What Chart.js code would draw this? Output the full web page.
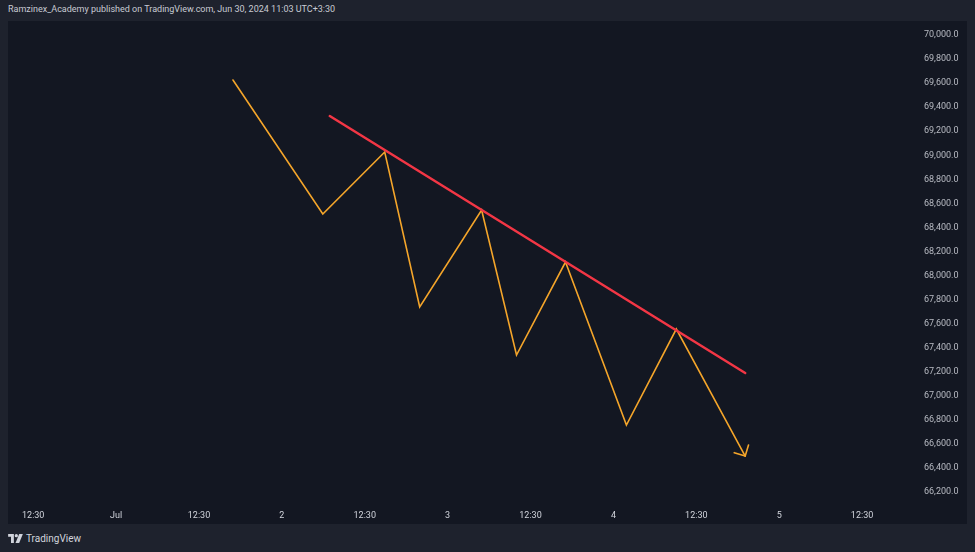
<!DOCTYPE html>
<html>
<head>
<meta charset="utf-8">
<script src="https://cdn.jsdelivr.net/npm/chart.js@4.4.1/dist/chart.umd.min.js"></script>
<style>
  html, body { margin: 0; padding: 0; background: #1e222d; width: 975px; height: 552px; overflow: hidden; }
  #header { position: absolute; left: 8px; top: 4px; font: 9px Roboto, sans-serif; color: #c8cbd3; white-space: nowrap; }
  #pane { position: absolute; left: 8px; top: 21px; width: 959px; height: 503px; background: #131722; }
  #footer { position: absolute; left: 8px; top: 531px; height: 14px; display: flex; align-items: center; }
  #footer span { font: 10px Roboto, sans-serif; color: #d1d4dc; margin-left: 3px; }
  canvas { display: block; }
</style>
</head>
<body>
<div id="header">Ramzinex_Academy published on TradingView.com, Jun 30, 2024 11:03 UTC+3:30</div>
<div id="pane"><canvas id="c" width="959" height="503"></canvas></div>
<div id="footer">
  <svg width="15" height="9" viewBox="0 0 36 22">
    <path d="M0 0h14v22h-7V7H0z" fill="#d1d4dc"/>
    <circle cx="20" cy="4" r="4" fill="#d1d4dc"/>
    <path d="M27 0h9l-9 22h-9z" fill="#d1d4dc"/>
  </svg>
  <span>TradingView</span>
</div>
<script>
// x positions are in tick-slot units (0 = first "12:30" label)
const xTickLabels = ["12:30", "Jul", "12:30", "2", "12:30", "3", "12:30", "4", "12:30", "5", "12:30"];
const yTickValues = [66200, 66400, 66600, 66800, 67000, 67200, 67400, 67600, 67800, 68000,
                     68200, 68400, 68600, 68800, 69000, 69200, 69400, 69600, 69800, 70000];

// orange zig-zag wave
const waveX = [2.41, 3.494, 4.241, 4.663, 5.410, 5.831, 6.422, 7.157, 7.759, 8.590];
const waveY = [69626, 68512, 69027, 67738, 68545, 67339, 68112, 66757, 67555, 66499];

// arrow head wings at the end of the wave
const wingAX = [8.458, 8.590];
const wingAY = [66527, 66499];
const wingBX = [8.630, 8.590];
const wingBY = [66591, 66499];

// red descending trend line
const trendX = [3.578, 8.590];
const trendY = [69326, 67189];

const toPts = (xs, ys) => xs.map((x, i) => ({ x: x, y: ys[i] }));

const orange = '#f4a52a';
const red = '#f23645';

const lineDs = (data, color, width) => ({
  data: data, borderColor: color, borderWidth: width, pointRadius: 0,
  fill: false, tension: 0, borderCapStyle: 'round', borderJoinStyle: 'miter'
});

// where the first/last tick of each axis sits inside the canvas (layout)
const X_FIRST_PX = 24, X_LAST_PX = 854;
const Y_TOP_PX = 14, Y_BOTTOM_PX = 471;

const chart = new Chart(document.getElementById('c'), {
  type: 'line',
  data: {
    datasets: [
      lineDs(toPts(trendX, trendY), red, 2.5),
      lineDs(toPts(waveX, waveY), orange, 1.6),
      lineDs(toPts(wingAX, wingAY), orange, 1.6),
      lineDs(toPts(wingBX, wingBY), orange, 1.6)
    ]
  },
  options: {
    responsive: false,
    animation: false,
    devicePixelRatio: 1,
    layout: { padding: 0 },
    plugins: { legend: { display: false }, tooltip: { enabled: false } },
    scales: {
      x: {
        type: 'linear',
        min: -0.289,
        max: 10.518,
        grid: { display: false, drawTicks: false },
        border: { display: false },
        afterFit: s => { s.height = 22; },
        afterBuildTicks: s => { s.ticks = xTickLabels.map((_, i) => ({ value: i })); },
        ticks: {
          autoSkip: false,
          maxRotation: 0,
          padding: 11,
          color: '#d1d4dc',
          font: { family: 'Roboto', size: 9 },
          callback: (v) => xTickLabels[v]
        }
      },
      y: {
        type: 'linear',
        position: 'right',
        min: 66116.8,
        max: 70033.3,
        grid: { display: false, drawTicks: false },
        border: { display: false },
        afterFit: s => { s.width = 62; },
        afterBuildTicks: s => { s.ticks = yTickValues.map(v => ({ value: v })); },
        ticks: {
          autoSkip: false,
          padding: 19,
          color: '#b8bbc3',
          font: { family: 'Roboto', size: 9 },
          callback: (v) => v.toLocaleString('en-US', { minimumFractionDigits: 1, maximumFractionDigits: 1 })
        }
      }
    }
  }
});

// fit scale ranges so ticks land at their layout positions
const ca = chart.chartArea;
const xFirst = 0, xLast = xTickLabels.length - 1;
const xPer = (xLast - xFirst) / (X_LAST_PX - X_FIRST_PX);
chart.options.scales.x.min = xFirst - (X_FIRST_PX - ca.left) * xPer;
chart.options.scales.x.max = xLast + (ca.right - X_LAST_PX) * xPer;
const yHi = yTickValues[yTickValues.length - 1], yLo = yTickValues[0];
const yPer = (yHi - yLo) / (Y_BOTTOM_PX - Y_TOP_PX);
chart.options.scales.y.max = yHi + (Y_TOP_PX - ca.top) * yPer;
chart.options.scales.y.min = yLo - (ca.bottom - Y_BOTTOM_PX) * yPer;
chart.update();
</script>
</body>
</html>
